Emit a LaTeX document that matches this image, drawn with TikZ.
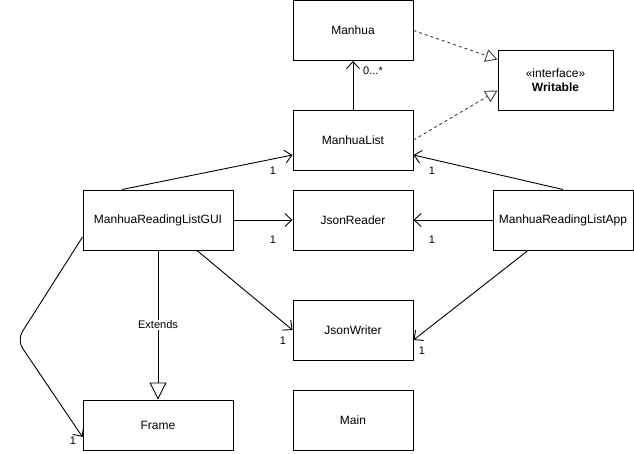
\documentclass[tikz,border=0pt]{standalone}
\usepackage{fontspec}
\setmainfont{Liberation Sans}
\usetikzlibrary{arrows.meta,calc}
\begin{document}
\begin{tikzpicture}[x=1pt,y=-1pt,
  box/.style={draw=black,line width=1pt,fill=white,minimum width=120pt,minimum height=60pt,inner sep=0pt,font=\fontsize{12}{14}\selectfont,align=center},
  conn/.style={draw=black,line width=0.9pt},
  barb/.style={conn,-{Straight Barb[length=7pt,width=13pt,line width=0.9pt]}},
  impl/.style={conn,draw=black!75,dash pattern=on 3pt off 3pt,-{Triangle[open,length=12pt,width=13pt,line width=0.9pt,fill=white,sep=0pt]}},
  ext/.style={conn,-{Triangle[open,length=17pt,width=17pt,line width=0.9pt,fill=white]}},
  lbl/.style={inner sep=0pt,font=\fontsize{11}{13}\selectfont}]
\useasboundingbox (0,0) rectangle (634,453);
% boxes
\node[box] (manhua) at (353,30.5) {Manhua};
\node[box,minimum width=115pt] (writable) at (555.5,80) {«interface»\\\textbf{Writable}};
\node[box] (mlist) at (353,140) {ManhuaList};
\node[box,minimum width=150pt] (gui) at (158,220) {ManhuaReadingListGUI};
\node[box] (reader) at (353,220) {JsonReader};
\node[box,minimum width=140pt] (app) at (563,220) {ManhuaReadingListApp};
\node[box] (writer) at (353,330) {JsonWriter};
\node[box,minimum width=150pt,minimum height=50pt] (frame) at (158,425) {Frame};
\node[box] (main) at (353,420) {Main};
% realizations
\draw[impl] (manhua.east) -- ([yshift=-10pt]writable.north west);
\draw[impl] (mlist.east) -- ([yshift=20pt]writable.south west);
% associations
\draw[barb] (mlist.north) -- (manhua.south);
\node[lbl] (l0) at (373,71) {0...*};
\draw[barb] ([xshift=-36pt]gui.north) -- ([yshift=-15pt]mlist.west);
\node[lbl] (l1) at (273,171) {1};
\draw[barb] (gui.east) -- (reader.west);
\node[lbl] (l2) at (273,240) {1};
\draw[barb] ([xshift=39pt]gui.south) -- (writer.west);
\node[lbl] (l3) at (283,341) {1};
\coordinate (bend) at (17,340);
\draw[barb,rounded corners=10pt] ([yshift=-17pt]gui.west) -- (bend) -- ([yshift=-12pt]frame.west);
\node[lbl] (l4) at (73,441) {1};
\draw[ext] (gui.south) -- (frame.north) node[pos=0.5,fill=white,inner sep=1pt,font=\fontsize{11}{13}\selectfont] (extl) {Extends};
\draw[barb] (app.north) -- ([yshift=-15pt]mlist.east);
\node[lbl] (l5) at (432,171) {1};
\draw[barb] (app.west) -- (reader.east);
\node[lbl] (l6) at (432,240) {1};
\draw[barb] ([xshift=-35pt]app.south) -- ([yshift=-10pt]writer.east);
\node[lbl] (l7) at (422,351) {1};
\end{tikzpicture}
\end{document}
